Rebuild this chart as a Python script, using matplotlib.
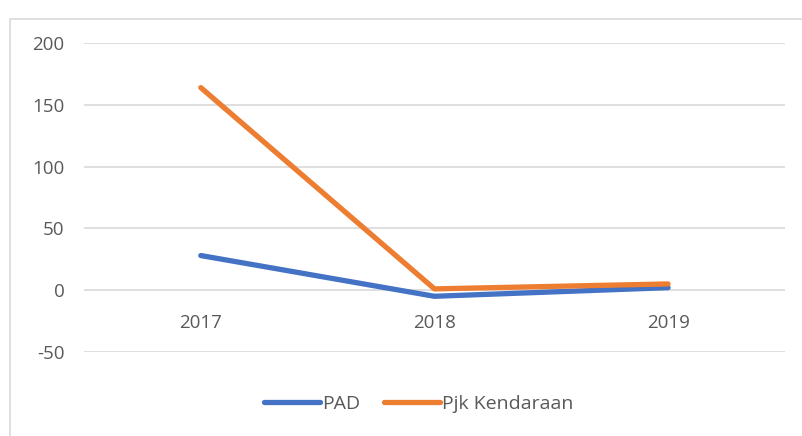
import matplotlib.pyplot as plt
from matplotlib.patches import Rectangle

# data
years = ["2017", "2018", "2019"]
pad = [28, -5, 2]
pjk_kendaraan = [164, 1, 5]
y_ticks = [-50, 0, 50, 100, 150, 200]

plt.rcParams['font.family'] = ['Open Sans', 'DejaVu Sans']
text_color = "#595959"

fig = plt.figure(figsize=(8.02, 4.36), dpi=100)
ax = fig.add_axes([0.1047, 0.193, 0.874, 0.708])

# outer chart frame
fig.patches.append(Rectangle((10 / 802, -0.1), 1.2, 0.1 + 1 - 19 / 436,
                             transform=fig.transFigure, fill=False,
                             edgecolor="#D9D9D9", linewidth=1.2))

x = range(len(years))
ax.plot(x, pad, color="#4472C4", linewidth=3.8, solid_capstyle="round", label="PAD")
ax.plot(x, pjk_kendaraan, color="#ED7D31", linewidth=3.8, solid_capstyle="round",
        label="Pjk Kendaraan")

ax.set_xlim(-0.5, len(years) - 0.5)
ax.set_ylim(-50, 200)
ax.set_yticks(y_ticks)
ax.set_yticklabels([str(v) for v in y_ticks])
ax.set_xticks(list(x))
ax.set_xticklabels(years)

ax.yaxis.grid(True, color="#D9D9D9", linewidth=1.2)
ax.set_axisbelow(True)
for s in ["top", "right", "left"]:
    ax.spines[s].set_visible(False)
ax.spines["bottom"].set_position(("data", 0))
ax.spines["bottom"].set_visible(False)
ax.tick_params(axis="both", length=0, labelsize=13.5, labelcolor=text_color)
ax.tick_params(axis="y", pad=14)
ax.tick_params(axis="x", pad=17)

leg = fig.legend(loc="center", bbox_to_anchor=(0.522, 0.073), ncol=2, frameon=False,
                 fontsize=14, handlelength=2.9, handletextpad=0.1, columnspacing=1.2)
for t in leg.get_texts():
    t.set_color(text_color)

fig.savefig("out.png", dpi=100)
